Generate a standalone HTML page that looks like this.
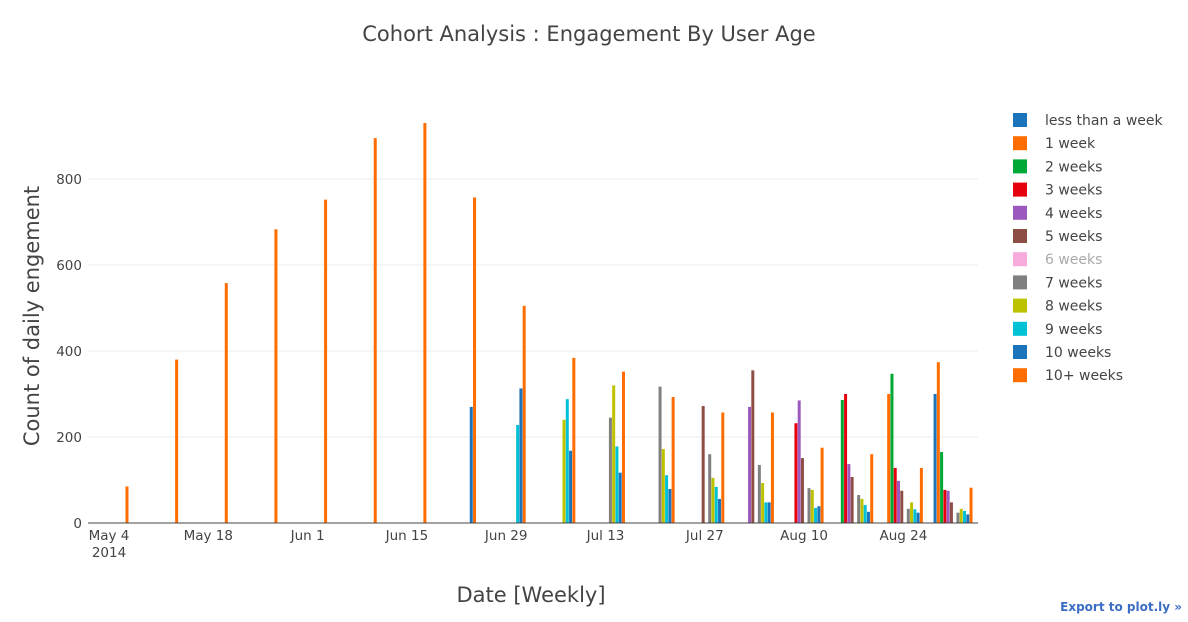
<!DOCTYPE html>
<html><head><meta charset="utf-8"><style>
body{margin:0;background:#fff;}
svg text{font-family:"DejaVu Sans","Liberation Sans",sans-serif;}
</style></head><body>
<svg id="chart" width="1188" height="617" xmlns="http://www.w3.org/2000/svg">
<text x="589" y="41" text-anchor="middle" font-size="21" fill="#444">Cohort Analysis : Engagement By User Age</text>
<text transform="translate(39,316) rotate(-90)" text-anchor="middle" font-size="21" fill="#444">Count of daily engement</text>
<text x="531" y="602" text-anchor="middle" font-size="21" fill="#444">Date [Weekly]</text>
<text x="1182" y="611" text-anchor="end" font-size="12" font-weight="bold" fill="#3c6dc5">Export to plot.ly »</text>
<g id="grid"></g><g id="bars"></g><g id="axes"></g><g id="legend"></g>
</svg>
<script>
const seriesNames=["less than a week","1 week","2 weeks","3 weeks","4 weeks","5 weeks","6 weeks","7 weeks","8 weeks","9 weeks","10 weeks","10+ weeks"];
const colors=["#1c75bc","#ff6d00","#00a835","#e6000d","#9b59c0","#8e4e46","#f7abdd","#808080","#bdc200","#00c2d6","#1c75bc","#ff6d00"];
const weekLabels=["May 4","May 11","May 18","May 25","Jun 1","Jun 8","Jun 15","Jun 22","Jun 29","Jul 6","Jul 13","Jul 20","Jul 27","Aug 3","Aug 10","Aug 17","Aug 24","Aug 31"];
// values per week, indexed by series slot (0 = none)
const v0=[0,0,0,0,0,0,0,0,0,0,0,85];
const v1=[0,0,0,0,0,0,0,0,0,0,0,380];
const v2=[0,0,0,0,0,0,0,0,0,0,0,558];
const v3=[0,0,0,0,0,0,0,0,0,0,0,683];
const v4=[0,0,0,0,0,0,0,0,0,0,0,752];
const v5=[0,0,0,0,0,0,0,0,0,0,0,895];
const v6=[0,0,0,0,0,0,0,0,0,0,0,930];
const v7=[0,0,0,0,0,0,0,0,0,0,270,757];
const v8=[0,0,0,0,0,0,0,0,0,228,313,505];
const v9=[0,0,0,0,0,0,0,0,240,288,168,384];
const v10=[0,0,0,0,0,0,0,245,320,178,117,352];
const v11=[0,0,0,0,0,0,0,317,172,111,79,293];
const v12=[0,0,0,0,0,272,0,160,105,84,56,257];
const v13=[0,0,0,0,270,355,0,135,93,48,48,257];
const v14=[0,0,0,232,285,151,0,81,77,35,39,175];
const v15=[0,0,286,300,137,107,0,65,56,42,26,160];
const v16=[0,300,347,128,98,75,0,33,48,32,24,128];
const v17=[300,374,165,77,75,48,0,24,33,28,20,82];
const weekValues=[v0,v1,v2,v3,v4,v5,v6,v7,v8,v9,v10,v11,v12,v13,v14,v15,v16,v17];
const yTicks=[0,200,400,600,800];
const xTickIdx=[0,2,4,6,8,10,12,14,16];
const xTickLabels=["May 4","May 18","Jun 1","Jun 15","Jun 29","Jul 13","Jul 27","Aug 10","Aug 24"];

const NS="http://www.w3.org/2000/svg";
const L=88,R=978,T=102,B=523,YMAX=979;
const y=v=>B-(v/YMAX)*(B-T);
const x=i=>109+i*49.65;
const slotW=3.27;
function mk(tag,attrs,parent){const e=document.createElementNS(NS,tag);for(const k in attrs)e.setAttribute(k,attrs[k]);parent.appendChild(e);return e;}
const grid=document.getElementById('grid'),bars=document.getElementById('bars'),axes=document.getElementById('axes'),leg=document.getElementById('legend');
yTicks.forEach(t=>{
  if(t>0){const g=mk('line',{x1:L,x2:R,y1:y(t),y2:y(t),stroke:'#eee','stroke-width':1},grid);
  
  }
  const tx=mk('text',{x:L-6,y:y(t)+5,'text-anchor':'end','font-size':13.5,fill:'#444'},axes);
  tx.textContent=t;
  
  
});
weekValues.forEach((vals,i)=>{
  vals.forEach((v,s)=>{
    if(v<=0)return;
    const cx=x(i)+(s-5.5)*slotW;
    const r=mk('rect',{x:cx-1.5,y:y(v),width:3,height:B-y(v),fill:colors[s]},bars);
    
    
  });
});
const ax=mk('line',{x1:L,x2:R,y1:B,y2:B,stroke:'#444','stroke-width':1},axes);


xTickIdx.forEach((idx,j)=>{
  const tx=mk('text',{x:x(idx),y:540,'text-anchor':'middle','font-size':13.5,fill:'#444'},axes);
  tx.textContent=xTickLabels[j];
  
  
});
const yr=mk('text',{x:x(0),y:557,'text-anchor':'middle','font-size':13.5,fill:'#444'},axes);
yr.textContent='2014';


seriesNames.forEach((n,i)=>{
  const cy=120+i*23.2;
  const g=mk('g',{},leg);
  
  
  mk('rect',{x:1013,y:cy-7,width:14,height:14,fill:colors[i]},g);
  const t=mk('text',{x:1045,y:cy+5,'font-size':14,fill:i==6?'#aaa':'#444'},g);
  t.textContent=n;
});
</script>
</body></html>
